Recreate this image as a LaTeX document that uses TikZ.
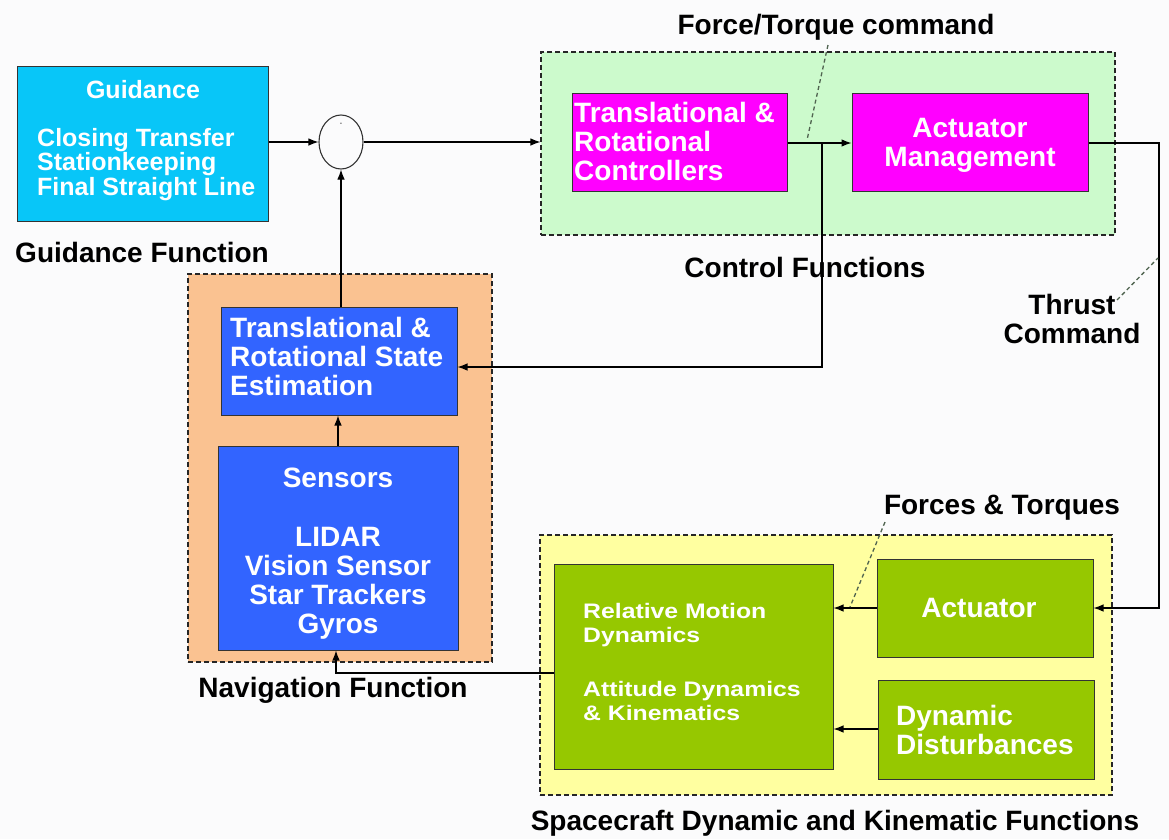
\documentclass[tikz,border=0pt]{standalone}
\usepackage{fontspec}
\setmainfont{Liberation Sans}
\newfontfamily\wideLS[FakeStretch=1.18]{Liberation Sans}
\usetikzlibrary{arrows.meta,shapes.geometric}
\definecolor{cyanbox}{RGB}{8,198,248}
\definecolor{ctrlfill}{RGB}{204,250,204}
\definecolor{magbox}{RGB}{255,0,255}
\definecolor{navfill}{RGB}{250,194,145}
\definecolor{bluebox}{RGB}{50,100,255}
\definecolor{scfill}{RGB}{255,255,160}
\definecolor{greenbox}{RGB}{150,200,0}
\definecolor{leadc}{RGB}{80,100,80}
\definecolor{bgc}{RGB}{251,251,252}
\begin{document}
\begin{tikzpicture}[x=1pt,y=-1pt,
  box/.style={draw=black!80, line width=1, inner sep=0},
  grp/.style={draw=black!85, line width=1.1, dash pattern=on 5pt off 3pt},
  arr/.style={line width=1.1, -{Latex[length=10pt,width=7.5pt]}},
  leader/.style={draw=leadc, line width=1.3, dash pattern=on 4pt off 3pt},
  lbl/.style={font=\fontsize{28}{29}\selectfont\bfseries, inner sep=0},
  wbig/.style={font=\fontsize{28}{29}\selectfont\bfseries, text=white, inner sep=0},
  wmid/.style={font=\fontsize{25}{23}\selectfont\bfseries, text=white, inner sep=0},
  wrm/.style={font=\wideLS\fontsize{21}{24}\selectfont\bfseries, text=white, inner sep=0}]
\useasboundingbox (0,0) rectangle (1169,839);
\fill[bgc] (0,0) rectangle (1169,839);

% group boxes
\node[grp, fill=ctrlfill, minimum width=574, minimum height=183] (ctrlgrp) at (828,143.5) {};
\node[grp, fill=navfill, minimum width=304, minimum height=388] (navgrp) at (340,468) {};
\node[grp, fill=scfill, minimum width=572, minimum height=260] (scgrp) at (826,665) {};

% blocks
\node[box, fill=cyanbox, minimum width=251, minimum height=155] (guid) at (142.5,143.5) {};
\node[draw=black!80, line width=1.1, ellipse, minimum width=44, minimum height=54, inner sep=0] (sum) at (341,142) {};
\node[font=\fontsize{7}{7}\selectfont, inner sep=0] (minus) at (341,124) {-};
\node[box, fill=magbox, minimum width=215, minimum height=98] (ctrl) at (679.5,142) {};
\node[box, fill=magbox, minimum width=236, minimum height=98] (actm) at (970,142) {};
\node[box, fill=bluebox, minimum width=236, minimum height=108] (est) at (339,361) {};
\node[box, fill=bluebox, minimum width=240, minimum height=204] (sens) at (338,548) {};
\node[box, fill=greenbox, minimum width=279, minimum height=205] (rm) at (693.5,666.5) {};
\node[box, fill=greenbox, minimum width=216, minimum height=98] (act) at (985,608) {};
\node[box, fill=greenbox, minimum width=216, minimum height=99] (dist) at (986,729.5) {};

% texts in blocks
\node[wmid] (guidT) at (143,90) {Guidance};
\node[wmid, align=left, anchor=west] (guidL) at (37,164.5) {Closing Transfer\\Stationkeeping\\Final Straight Line};
\node[wbig, align=left, anchor=west] (ctrlT) at (574,141) {Translational \&\\Rotational\\Controllers};
\node[wbig, align=center] (actmT) at (970,145) {Actuator\\Management};
\node[wbig, align=left, anchor=west] (estT) at (230,356) {Translational \&\\Rotational State\\Estimation};
\node[wbig] (sensT) at (338,478) {Sensors};
\node[wbig, align=center] (sensL) at (338,583) {LIDAR\\Vision Sensor\\Star Trackers\\Gyros};
\node[wrm, align=left, anchor=west] (rmA) at (583,625.5) {Relative Motion\\Dynamics};
\node[wrm, align=left, anchor=west] (rmB) at (583,701) {Attitude Dynamics\\\& Kinematics};
\node[wbig] (actT) at (979,608) {Actuator};
\node[wbig, align=left, anchor=west] (distT) at (896,730) {Dynamic\\Disturbances};

% labels
\node[lbl] (guidLab) at (142,252) {Guidance Function};
\node[lbl] (ftLab) at (836,27) {Force/Torque command};
\node[lbl] (ctrlLab) at (805,267) {Control Functions};
\node[lbl, align=center] (thrLab) at (1072,319) {Thrust\\Command};
\node[lbl] (ftqLab) at (1002,508) {Forces \& Torques};
\node[lbl] (navLab) at (333,690) {Navigation Function};
\node[lbl] (scLab) at (835,823) {Spacecraft Dynamic and Kinematic Functions};

% connectors
\coordinate (j1) at (822,143);
\coordinate (j2) at (822,367);
\coordinate (r1) at (1159,143);
\coordinate (r2) at (1159,608);
\coordinate (d1) at (860,729);
\coordinate (n1) at (336,673);
\draw[arr] (guid.east |- sum) -- (sum.west);
\draw[arr] (sum.east) -- (ctrlgrp.west |- sum);
\draw[arr] (ctrl.east |- j1) -- (actm.west |- j1);
\draw[arr] (j1) -- (j2) -- (est.east |- j2);
\draw[arr] (actm.east |- r1) -- (r1) -- (r2) -- (act.east |- r2);
\draw[arr] (act.west |- r2) -- (rm.east |- r2);
\draw[arr] (dist.west |- d1) -- (rm.east |- d1);
\draw[arr] (rm.west |- n1) -- (n1) -- (sens.south -| n1);
\draw[arr] (sens.north) -- (est.south -| sens.north);
\draw[arr] (est.north -| sum.south) -- (sum.south);

% leaders
\coordinate (ftA) at (828,45);
\coordinate (ftB) at (807,140);
\coordinate (thA) at (1117,300);
\coordinate (thB) at (1158,258);
\coordinate (fqA) at (885,522);
\coordinate (fqB) at (850,607);
\draw[leader] (ftA) -- (ftB);
\draw[leader] (thA) -- (thB);
\draw[leader] (fqA) -- (fqB);
\end{tikzpicture}
\end{document}
